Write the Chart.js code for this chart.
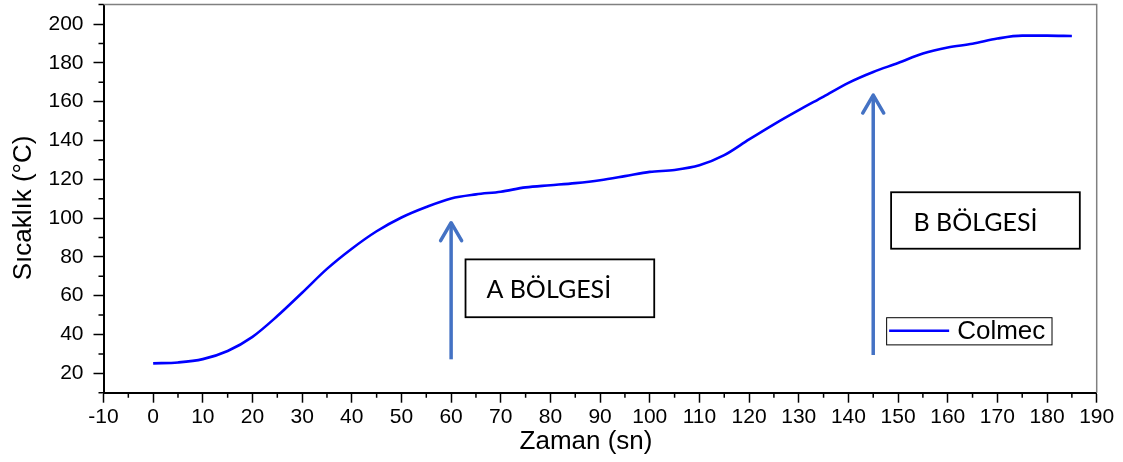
<!DOCTYPE html>
<html>
<head>
<meta charset="utf-8">
<script src="https://cdn.jsdelivr.net/npm/chart.js@4"></script>
<style>
  html, body { margin: 0; padding: 0; background: #fff; }
  #wrap { width: 1123px; height: 462px; position: relative; }
</style>
</head>
<body>
<div id="wrap"><canvas id="c"></canvas></div>
<script>
// Heating curve: time (s) vs temperature (°C)
const times = [0, 5, 10, 15, 20, 25, 30, 35, 40, 45, 50, 55, 60, 65, 70, 75, 80, 85, 90,
               95, 100, 105, 110, 115, 120, 125, 130, 135, 140, 145, 150, 155, 160, 165,
               170, 175, 180, 185];
const temps = [25.1, 25.6, 27.3, 31.5, 38.8, 49.5, 61.5, 73.8, 84.2, 93.2, 100.3, 105.7,
               110.1, 112.2, 113.6, 115.8, 116.9, 118.0, 119.5, 121.6, 123.8, 124.8, 127.2,
               132.4, 140.5, 148.3, 155.6, 162.6, 169.7, 175.3, 179.9, 184.8, 187.9, 189.8,
               192.5, 194.0, 194.0, 193.8];
const seriesLabel = 'Colmec';

// Axis ranges and tick spacing
const xRange = [-10, 190];
const yRange = [10, 210];
const xLabelStep = 10, xMinorStep = 5;
const yLabelStep = 20, yMinorStep = 10;

const xTitle = 'Zaman (sn)';
const yTitle = 'Sıcaklık (°C)';

// Region callouts: arrow (in data units) and a labelled box
const regions = [
  { text: 'A BÖLGESİ', arrowX: 60,  arrowFrom: 27.2, arrowTo: 97.6,
    box: [62.9, 48.9, 100.9, 78.7], textAt: [67.1, 58.6] },
  { text: 'B BÖLGESİ', arrowX: 145, arrowFrom: 29.4, arrowTo: 163.4,
    box: [148.6, 84.2, 186.6, 113.3], textAt: [153.1, 93.5] }
];
const legendBox = [147.6, 34.9, 180.9, 48.9];

const SANS = '"Liberation Sans", Arial, sans-serif';
const CALLOUT_FONT = '25px Lato, "Open Sans", sans-serif';
const ARROW_COLOR = '#4472C4';
const LINE_COLOR = '#0000FF';

const isMultiple = (v, s) => Math.abs(v / s - Math.round(v / s)) < 1e-6;

const overlay = {
  id: 'overlay',
  afterDraw(chart) {
    const { ctx, chartArea: a, scales: { x, y } } = chart;
    ctx.save();

    // top and right frame
    ctx.strokeStyle = '#808080';
    ctx.lineWidth = 1.5;
    ctx.beginPath();
    ctx.moveTo(a.left, a.top);
    ctx.lineTo(a.right, a.top);
    ctx.lineTo(a.right, a.bottom);
    ctx.stroke();

    // minor ticks
    ctx.strokeStyle = '#000';
    ctx.lineWidth = 1.5;
    ctx.beginPath();
    for (let v = xRange[0]; v <= xRange[1] + 1e-9; v += xMinorStep) {
      if (isMultiple(v, xLabelStep)) continue;
      const px = x.getPixelForValue(v);
      ctx.moveTo(px, a.bottom);
      ctx.lineTo(px, a.bottom + 5);
    }
    for (let v = yRange[0]; v <= yRange[1] + 1e-9; v += yMinorStep) {
      if (isMultiple(v, yLabelStep)) continue;
      const py = y.getPixelForValue(v);
      ctx.moveTo(a.left - 5, py);
      ctx.lineTo(a.left, py);
    }
    ctx.stroke();

    // axis titles
    ctx.fillStyle = '#000';
    ctx.font = '26px ' + SANS;
    ctx.textAlign = 'center';
    ctx.textBaseline = 'middle';
    ctx.fillText(xTitle, 586, 442);
    ctx.save();
    ctx.translate(24, 208);
    ctx.rotate(-Math.PI / 2);
    ctx.fillText(yTitle, 0, 0);
    ctx.restore();

    // region arrows and boxes
    regions.forEach(r => {
      const ax = x.getPixelForValue(r.arrowX);
      const y0 = y.getPixelForValue(r.arrowFrom);
      const y1 = y.getPixelForValue(r.arrowTo);
      ctx.strokeStyle = ARROW_COLOR;
      ctx.lineWidth = 3.5;
      ctx.lineCap = 'butt';
      ctx.beginPath();
      ctx.moveTo(ax, y0);
      ctx.lineTo(ax, y1 + 2);
      ctx.stroke();
      ctx.lineCap = 'round';
      ctx.lineJoin = 'round';
      ctx.beginPath();
      ctx.moveTo(ax - 10.5, y1 + 18);
      ctx.lineTo(ax, y1);
      ctx.lineTo(ax + 10.5, y1 + 18);
      ctx.stroke();

      const bx0 = x.getPixelForValue(r.box[0]);
      const by0 = y.getPixelForValue(r.box[3]);
      const bx1 = x.getPixelForValue(r.box[2]);
      const by1 = y.getPixelForValue(r.box[1]);
      ctx.fillStyle = '#fff';
      ctx.fillRect(bx0, by0, bx1 - bx0, by1 - by0);
      ctx.strokeStyle = '#000';
      ctx.lineWidth = 1.8;
      ctx.lineJoin = 'miter';
      ctx.strokeRect(bx0, by0, bx1 - bx0, by1 - by0);

      ctx.fillStyle = '#000';
      ctx.font = CALLOUT_FONT;
      ctx.textAlign = 'left';
      ctx.textBaseline = 'alphabetic';
      ctx.fillText(r.text, x.getPixelForValue(r.textAt[0]), y.getPixelForValue(r.textAt[1]));
    });

    // legend
    const ds = chart.data.datasets[0];
    const lx0 = x.getPixelForValue(legendBox[0]);
    const ly0 = y.getPixelForValue(legendBox[3]);
    const lx1 = x.getPixelForValue(legendBox[2]);
    const ly1 = y.getPixelForValue(legendBox[1]);
    ctx.fillStyle = '#fff';
    ctx.fillRect(lx0, ly0, lx1 - lx0, ly1 - ly0);
    ctx.strokeStyle = '#000';
    ctx.lineWidth = 1;
    ctx.strokeRect(lx0 + 0.5, ly0 + 0.5, lx1 - lx0, ly1 - ly0);
    const midY = (ly0 + ly1) / 2;
    ctx.strokeStyle = ds.borderColor;
    ctx.lineWidth = 2.5;
    ctx.lineCap = 'butt';
    ctx.beginPath();
    ctx.moveTo(lx0 + 3, midY);
    ctx.lineTo(lx0 + 63, midY);
    ctx.stroke();
    ctx.fillStyle = '#000';
    ctx.font = '26px ' + SANS;
    ctx.textAlign = 'left';
    ctx.textBaseline = 'middle';
    ctx.fillText(ds.label, lx0 + 71, midY + 1);

    ctx.restore();
  }
};

new Chart(document.getElementById('c'), {
  type: 'line',
  data: {
    datasets: [{
      label: seriesLabel,
      data: times.map((t, i) => ({ x: t, y: temps[i] })),
      borderColor: LINE_COLOR,
      borderWidth: 2.6,
      pointRadius: 0,
      fill: false,
      cubicInterpolationMode: 'monotone'
    }]
  },
  options: {
    responsive: true,
    maintainAspectRatio: false,
    animation: false,
    layout: { padding: { left: 0, right: 26.3, top: 4.6, bottom: 0 } },
    plugins: { legend: { display: false }, tooltip: { enabled: false } },
    scales: {
      x: {
        type: 'linear',
        min: xRange[0], max: xRange[1],
        afterFit: s => { s.height = 69.3; s.paddingLeft = 0; s.paddingRight = 0; },
        border: { display: true, color: '#000', width: 2 },
        grid: {
          drawOnChartArea: false, drawTicks: true, tickLength: 10, tickWidth: 1.5,
          tickColor: c => (c.tick && isMultiple(c.tick.value, xLabelStep)) ? '#000' : 'rgba(0,0,0,0)'
        },
        ticks: {
          stepSize: xMinorStep, autoSkip: false, maxRotation: 0, padding: 2,
          color: '#000', font: { family: SANS, size: 21 },
          callback: v => isMultiple(v, xLabelStep) ? String(v) : ''
        }
      },
      y: {
        type: 'linear',
        min: yRange[0], max: yRange[1],
        afterFit: s => { s.width = 103.5; s.paddingTop = 0; s.paddingBottom = 0; },
        border: { display: true, color: '#000', width: 2 },
        grid: {
          drawOnChartArea: false, drawTicks: true, tickLength: 10, tickWidth: 1.5,
          tickColor: c => (c.tick && isMultiple(c.tick.value, yLabelStep)) ? '#000' : 'rgba(0,0,0,0)'
        },
        ticks: {
          stepSize: yMinorStep, autoSkip: false, padding: 10,
          color: '#000', font: { family: SANS, size: 21 },
          callback: v => isMultiple(v, yLabelStep) ? String(v) : ''
        }
      }
    }
  },
  plugins: [overlay]
});
</script>
</body>
</html>
